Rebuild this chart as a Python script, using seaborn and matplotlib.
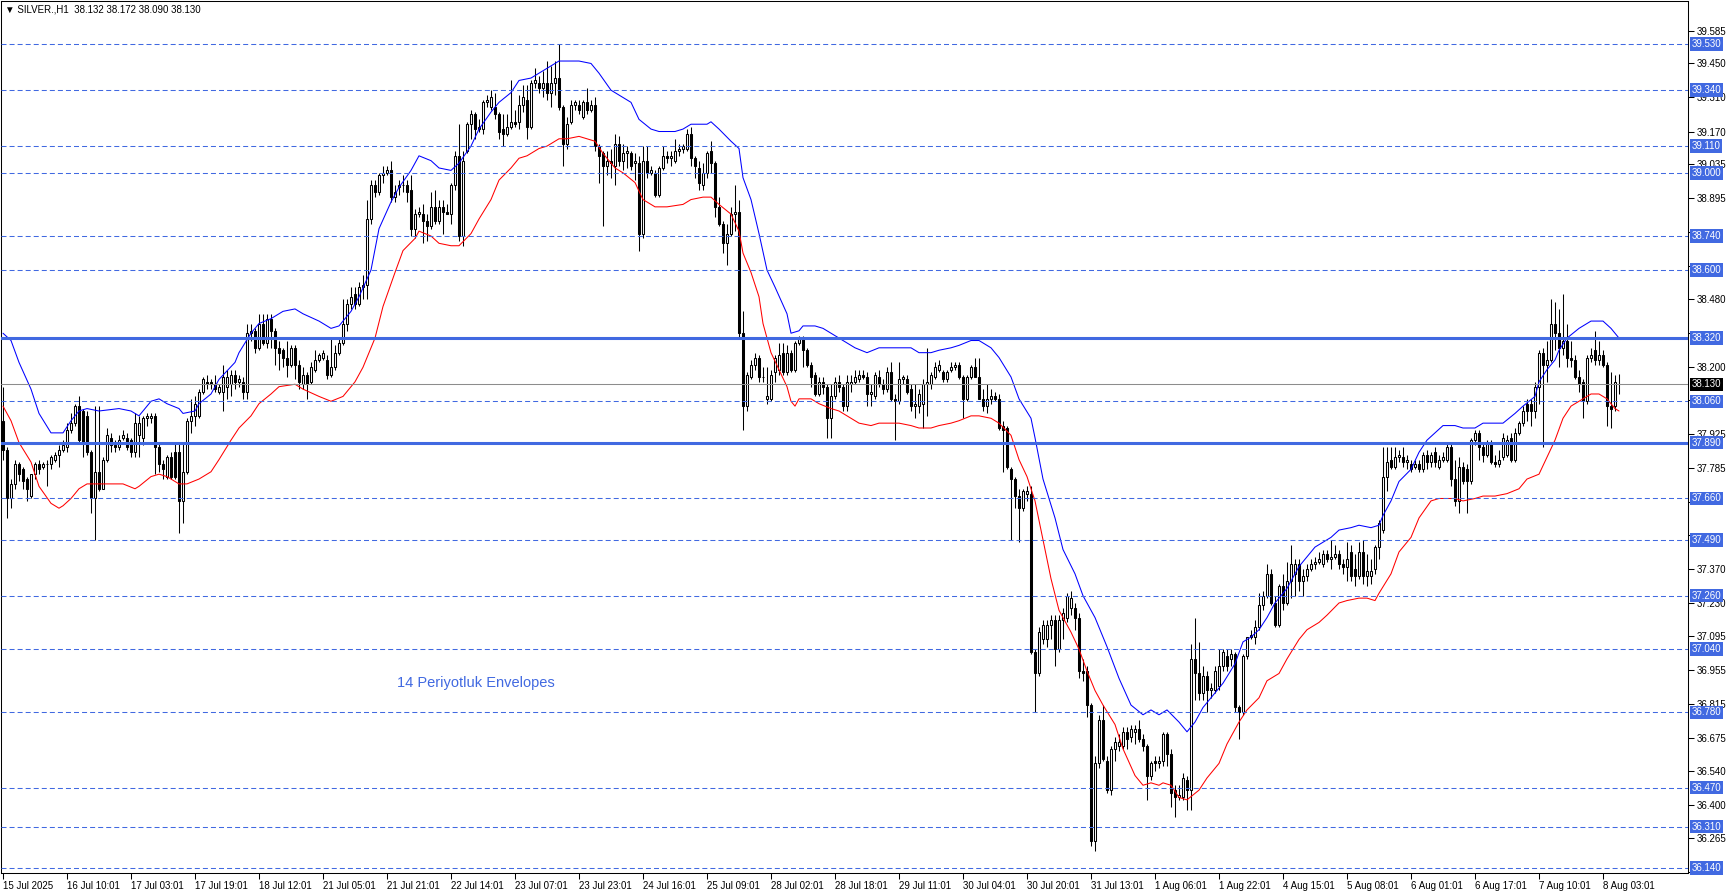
import numpy as np
import pandas as pd
import matplotlib
matplotlib.use("Agg")
import matplotlib.pyplot as plt
import matplotlib.transforms as mtransforms
import seaborn as sns

# SILVER H1 candles (one per bar, left to right)
opens = [
    37.98, 37.86, 37.66, 37.72, 37.80, 37.78, 37.74, 37.67, 37.76, 37.80,
    37.79, 37.80, 37.80, 37.82, 37.84, 37.86, 37.87, 37.94, 37.97, 38.04,
    38.02, 38.00, 37.85, 37.66, 37.77, 37.70, 37.82, 37.91, 37.88, 37.87,
    37.91, 37.91, 37.90, 37.85, 37.92, 37.91, 37.99, 37.99, 38.00, 37.87,
    37.80, 37.75, 37.83, 37.85, 37.85, 37.65, 37.77, 37.98, 38.00, 38.00,
    38.10, 38.14, 38.14, 38.13, 38.10, 38.10, 38.12, 38.13, 38.17, 38.14,
    38.14, 38.10, 38.34, 38.35, 38.28, 38.38, 38.30, 38.40, 38.35, 38.28,
    38.27, 38.24, 38.21, 38.28, 38.21, 38.13, 38.17, 38.14, 38.19, 38.23,
    38.24, 38.23, 38.17, 38.20, 38.26, 38.30, 38.38, 38.46, 38.50, 38.46,
    38.53, 38.54, 38.81, 38.95, 38.92, 38.99, 39.00, 39.01, 38.90, 38.94,
    38.95, 38.95, 38.93, 38.77, 38.83, 38.83, 38.80, 38.78, 38.86, 38.80,
    38.86, 38.84, 38.83, 38.95, 39.07, 38.74, 39.09, 39.20, 39.24, 39.18,
    39.18, 39.29, 39.27, 39.27, 39.24, 39.18, 39.16, 39.19, 39.21, 39.21,
    39.28, 39.30, 39.19, 39.37, 39.37, 39.35, 39.37, 39.33, 39.37, 39.39,
    39.27, 39.12, 39.21, 39.28, 39.28, 39.23, 39.29, 39.26, 39.28, 39.11,
    39.08, 39.03, 39.05, 39.03, 39.12, 39.05, 39.08, 39.08, 39.04, 39.04,
    38.75, 39.05, 39.00, 39.00, 38.91, 39.02, 39.07, 39.06, 39.05, 39.09,
    39.10, 39.10, 39.16, 39.06, 39.02, 38.95, 39.00, 39.09, 39.04, 38.86,
    38.79, 38.71, 38.75, 38.83, 38.84, 38.34, 38.04, 38.16, 38.21, 38.24,
    38.16, 38.07, 38.07, 38.18, 38.19, 38.26, 38.18, 38.26, 38.19, 38.30,
    38.32, 38.27, 38.21, 38.17, 38.09, 38.14, 38.12, 37.99, 38.08, 38.14,
    38.12, 38.04, 38.13, 38.14, 38.15, 38.17, 38.16, 38.09, 38.08, 38.16,
    38.13, 38.11, 38.18, 38.07, 38.06, 38.15, 38.15, 38.11, 38.04, 38.04,
    38.05, 38.13, 38.13, 38.16, 38.19, 38.18, 38.15, 38.19, 38.20, 38.21,
    38.16, 38.07, 38.16, 38.20, 38.16, 38.07, 38.04, 38.07, 38.08, 38.07,
    37.96, 37.95, 37.78, 37.74, 37.67, 37.62, 37.68, 37.68, 37.03, 36.94,
    37.08, 37.08, 37.14, 37.16, 37.04, 37.16, 37.17, 37.21, 37.21, 37.17,
    36.95, 36.95, 36.81, 36.25, 36.57, 36.75, 36.58, 36.46, 36.63, 36.64,
    36.64, 36.70, 36.68, 36.70, 36.71, 36.67, 36.64, 36.52, 36.58, 36.57,
    36.58, 36.69, 36.61, 36.46, 36.43, 36.43, 36.50, 36.46, 37.00, 36.94,
    36.86, 36.93, 36.87, 36.87, 36.89, 36.97, 37.01, 37.00, 37.02, 36.80,
    36.78, 37.01, 37.09, 37.09, 37.13, 37.22, 37.26, 37.35, 37.23, 37.14,
    37.30, 37.23, 37.32, 37.35, 37.39, 37.32, 37.34, 37.37, 37.39, 37.40,
    37.39, 37.43, 37.41, 37.42, 37.43, 37.39, 37.38, 37.44, 37.37, 37.34,
    37.44, 37.34, 37.34, 37.37, 37.46, 37.53, 37.75, 37.82, 37.79, 37.83,
    37.83, 37.81, 37.80, 37.79, 37.80, 37.78, 37.84, 37.81, 37.85, 37.79,
    37.82, 37.82, 37.87, 37.74, 37.65, 37.79, 37.78, 37.73, 37.90, 37.93,
    37.87, 37.84, 37.89, 37.81, 37.80, 37.83, 37.84, 37.91, 37.82, 37.93,
    37.97, 38.05, 38.05, 38.02, 38.12, 38.26, 38.21, 38.23, 38.38, 38.34,
    38.28, 38.31, 38.24, 38.23, 38.16, 38.14, 38.06, 38.24, 38.27, 38.23,
    38.25, 38.21, 38.04, 38.04, 38.132,
]
highs = [
    38.12, 37.87, 37.74, 37.82, 37.81, 37.79, 37.75, 37.76, 37.81, 37.82,
    37.81, 37.82, 37.84, 37.85, 37.88, 37.90, 37.97, 38.01, 38.05, 38.08,
    38.03, 38.02, 37.86, 38.04, 38.04, 37.83, 37.95, 37.93, 37.90, 37.92,
    37.94, 37.93, 37.91, 38.01, 38.00, 38.00, 38.01, 38.01, 38.01, 37.89,
    37.82, 37.84, 37.85, 37.89, 37.89, 37.89, 37.99, 38.07, 38.08, 38.11,
    38.16, 38.17, 38.15, 38.17, 38.13, 38.21, 38.19, 38.19, 38.19, 38.17,
    38.16, 38.38, 38.38, 38.36, 38.42, 38.42, 38.42, 38.42, 38.36, 38.31,
    38.28, 38.31, 38.29, 38.29, 38.23, 38.20, 38.18, 38.22, 38.27, 38.26,
    38.27, 38.25, 38.32, 38.29, 38.32, 38.48, 38.48, 38.53, 38.53, 38.55,
    38.58, 38.89, 38.97, 38.97, 39.00, 39.03, 39.03, 39.05, 38.95, 38.97,
    38.99, 38.97, 38.99, 38.85, 38.86, 38.87, 38.83, 38.92, 38.93, 38.89,
    38.89, 38.87, 38.96, 39.09, 39.20, 39.09, 39.21, 39.26, 39.25, 39.22,
    39.30, 39.32, 39.34, 39.33, 39.25, 39.24, 39.24, 39.38, 39.26, 39.32,
    39.36, 39.36, 39.38, 39.43, 39.40, 39.42, 39.46, 39.44, 39.46, 39.53,
    39.28, 39.23, 39.30, 39.30, 39.30, 39.30, 39.35, 39.30, 39.31, 39.12,
    39.09, 39.09, 39.10, 39.16, 39.15, 39.12, 39.11, 39.09, 39.08, 39.07,
    39.11, 39.11, 39.03, 39.01, 39.03, 39.11, 39.09, 39.09, 39.14, 39.12,
    39.12, 39.18, 39.19, 39.07, 39.05, 39.04, 39.09, 39.13, 39.05, 38.90,
    38.80, 38.79, 38.86, 38.95, 38.89, 38.43, 38.18, 38.23, 38.26, 38.25,
    38.20, 38.20, 38.19, 38.25, 38.30, 38.30, 38.29, 38.27, 38.31, 38.33,
    38.33, 38.28, 38.22, 38.18, 38.16, 38.16, 38.13, 38.13, 38.16, 38.17,
    38.13, 38.17, 38.17, 38.19, 38.19, 38.19, 38.18, 38.13, 38.18, 38.19,
    38.15, 38.20, 38.22, 38.09, 38.22, 38.17, 38.17, 38.13, 38.13, 38.11,
    38.15, 38.28, 38.18, 38.22, 38.23, 38.19, 38.19, 38.22, 38.22, 38.22,
    38.17, 38.17, 38.21, 38.24, 38.24, 38.11, 38.13, 38.11, 38.10, 38.09,
    37.98, 37.96, 37.79, 37.75, 37.70, 37.70, 37.71, 37.71, 37.04, 37.13,
    37.16, 37.16, 37.18, 37.18, 37.18, 37.21, 37.27, 37.28, 37.23, 37.19,
    37.00, 36.97, 36.82, 36.60, 36.77, 36.81, 36.60, 36.64, 36.68, 36.69,
    36.72, 36.72, 36.73, 36.73, 36.75, 36.69, 36.65, 36.58, 36.60, 36.60,
    36.70, 36.70, 36.63, 36.48, 36.48, 36.53, 36.52, 37.06, 37.17, 37.07,
    36.97, 36.95, 36.90, 36.97, 37.04, 37.04, 37.04, 37.04, 37.03, 36.81,
    37.02, 37.09, 37.12, 37.16, 37.27, 37.28, 37.39, 37.37, 37.26, 37.31,
    37.35, 37.40, 37.47, 37.41, 37.41, 37.37, 37.39, 37.41, 37.42, 37.44,
    37.45, 37.45, 37.49, 37.47, 37.45, 37.41, 37.48, 37.47, 37.43, 37.48,
    37.49, 37.43, 37.41, 37.47, 37.57, 37.87, 37.87, 37.87, 37.87, 37.86,
    37.87, 37.84, 37.82, 37.82, 37.82, 37.85, 37.86, 37.85, 37.87, 37.84,
    37.85, 37.89, 37.89, 37.82, 37.83, 37.81, 37.80, 37.91, 37.94, 37.94,
    37.89, 37.90, 37.90, 37.84, 37.86, 37.93, 37.92, 37.93, 37.95, 37.98,
    38.04, 38.07, 38.07, 38.14, 38.27, 38.28, 38.31, 38.48, 38.47, 38.44,
    38.50, 38.38, 38.31, 38.25, 38.19, 38.15, 38.25, 38.28, 38.35, 38.31,
    38.27, 38.22, 38.18, 38.17, 38.172,
]
lows = [
    37.82, 37.58, 37.62, 37.70, 37.73, 37.70, 37.65, 37.66, 37.74, 37.76,
    37.78, 37.71, 37.78, 37.81, 37.79, 37.85, 37.85, 37.93, 37.96, 37.89,
    37.83, 37.84, 37.60, 37.49, 37.69, 37.70, 37.81, 37.85, 37.85, 37.86,
    37.90, 37.86, 37.83, 37.83, 37.83, 37.88, 37.96, 37.97, 37.76, 37.77,
    37.74, 37.74, 37.74, 37.74, 37.52, 37.56, 37.76, 37.93, 37.96, 37.99,
    38.09, 38.11, 38.11, 38.10, 38.09, 38.02, 38.07, 38.08, 38.11, 38.12,
    38.07, 38.07, 38.31, 38.26, 38.27, 38.29, 38.28, 38.28, 38.21, 38.19,
    38.20, 38.16, 38.20, 38.15, 38.11, 38.11, 38.07, 38.13, 38.18, 38.22,
    38.23, 38.15, 38.16, 38.19, 38.25, 38.29, 38.35, 38.44, 38.44, 38.45,
    38.48, 38.48, 38.79, 38.90, 38.91, 38.96, 38.99, 38.88, 38.88, 38.91,
    38.92, 38.88, 38.74, 38.73, 38.82, 38.71, 38.72, 38.77, 38.79, 38.79,
    38.75, 38.83, 38.79, 38.93, 38.72, 38.70, 39.08, 39.14, 39.14, 39.17,
    39.16, 39.27, 39.26, 39.22, 39.14, 39.11, 39.15, 39.18, 39.19, 39.18,
    39.25, 39.14, 39.18, 39.35, 39.33, 39.31, 39.30, 39.27, 39.32, 39.26,
    39.03, 39.10, 39.20, 39.26, 39.24, 39.22, 39.24, 39.25, 39.09, 38.96,
    38.78, 38.99, 38.98, 38.95, 39.03, 39.01, 39.02, 39.01, 38.97, 38.68,
    38.73, 38.98, 38.99, 38.90, 38.90, 39.01, 39.04, 39.03, 39.04, 39.07,
    39.08, 39.09, 39.03, 38.98, 38.93, 38.93, 38.98, 39.00, 38.82, 38.78,
    38.67, 38.62, 38.74, 38.76, 38.32, 37.94, 38.02, 38.15, 38.19, 38.14,
    38.14, 38.05, 38.06, 38.14, 38.17, 38.17, 38.17, 38.18, 38.18, 38.29,
    38.20, 38.20, 38.12, 38.08, 38.08, 38.09, 37.91, 37.91, 38.07, 38.10,
    38.02, 38.02, 38.10, 38.13, 38.14, 38.15, 38.04, 38.04, 38.07, 38.12,
    38.09, 38.10, 38.06, 37.90, 38.05, 38.13, 38.09, 38.02, 37.99, 38.01,
    37.95, 38.00, 38.11, 38.15, 38.18, 38.14, 38.14, 38.18, 38.19, 38.15,
    37.99, 38.06, 38.15, 38.16, 38.07, 38.02, 38.01, 38.05, 38.06, 37.94,
    37.77, 37.78, 37.49, 37.62, 37.48, 37.61, 37.65, 37.02, 36.78, 36.93,
    37.06, 37.05, 37.08, 36.97, 37.03, 37.08, 37.15, 37.18, 37.12, 36.92,
    36.91, 36.76, 36.23, 36.21, 36.55, 36.58, 36.45, 36.44, 36.58, 36.62,
    36.63, 36.63, 36.66, 36.65, 36.66, 36.62, 36.42, 36.50, 36.54, 36.55,
    36.56, 36.56, 36.39, 36.35, 36.42, 36.42, 36.38, 36.38, 36.83, 36.83,
    36.83, 36.78, 36.84, 36.86, 36.87, 36.95, 36.95, 36.97, 36.78, 36.67,
    36.77, 37.00, 37.08, 37.06, 37.12, 37.20, 37.25, 37.22, 37.13, 37.13,
    37.20, 37.22, 37.25, 37.26, 37.28, 37.26, 37.32, 37.36, 37.37, 37.39,
    37.38, 37.40, 37.37, 37.41, 37.37, 37.35, 37.32, 37.32, 37.30, 37.33,
    37.31, 37.30, 37.31, 37.35, 37.41, 37.52, 37.69, 37.78, 37.78, 37.81,
    37.79, 37.78, 37.77, 37.78, 37.77, 37.77, 37.78, 37.79, 37.79, 37.78,
    37.81, 37.81, 37.71, 37.63, 37.60, 37.72, 37.60, 37.72, 37.88, 37.82,
    37.81, 37.83, 37.80, 37.79, 37.79, 37.82, 37.83, 37.81, 37.81, 37.92,
    37.96, 37.98, 37.96, 37.99, 38.05, 37.87, 38.14, 38.22, 38.27, 38.20,
    38.25, 38.20, 38.20, 38.15, 38.10, 37.99, 38.05, 38.22, 38.21, 38.21,
    38.20, 37.96, 37.95, 38.02, 38.090,
]
closes = [
    37.86, 37.66, 37.72, 37.80, 37.76, 37.73, 37.70, 37.76, 37.80, 37.78,
    37.80, 37.80, 37.83, 37.84, 37.86, 37.88, 37.94, 37.97, 38.04, 37.90,
    37.89, 37.85, 37.66, 37.77, 37.70, 37.82, 37.92, 37.88, 37.87, 37.90,
    37.92, 37.87, 37.85, 37.97, 37.97, 37.99, 38.00, 38.00, 37.87, 37.80,
    37.78, 37.83, 37.75, 37.75, 37.65, 37.77, 37.98, 38.00, 38.05, 38.10,
    38.15, 38.13, 38.13, 38.11, 38.12, 38.16, 38.16, 38.17, 38.14, 38.15,
    38.10, 38.34, 38.35, 38.28, 38.38, 38.30, 38.40, 38.35, 38.28, 38.26,
    38.24, 38.21, 38.28, 38.21, 38.14, 38.17, 38.13, 38.20, 38.23, 38.25,
    38.26, 38.17, 38.20, 38.26, 38.30, 38.38, 38.46, 38.49, 38.46, 38.53,
    38.54, 38.81, 38.95, 38.92, 38.99, 39.00, 39.01, 38.90, 38.92, 38.95,
    38.95, 38.92, 38.77, 38.83, 38.84, 38.80, 38.78, 38.86, 38.80, 38.86,
    38.84, 38.83, 38.95, 39.07, 38.74, 39.05, 39.20, 39.24, 39.18, 39.19,
    39.29, 39.30, 39.31, 39.24, 39.17, 39.16, 39.19, 39.21, 39.20, 39.28,
    39.31, 39.19, 39.37, 39.38, 39.35, 39.37, 39.33, 39.37, 39.39, 39.27,
    39.12, 39.20, 39.28, 39.29, 39.26, 39.29, 39.26, 39.28, 39.11, 39.07,
    39.03, 39.05, 39.04, 39.12, 39.05, 39.08, 39.09, 39.03, 39.05, 38.75,
    39.05, 39.00, 39.01, 38.91, 39.02, 39.07, 39.06, 39.07, 39.09, 39.10,
    39.11, 39.16, 39.06, 39.03, 38.96, 39.00, 39.08, 39.04, 38.86, 38.79,
    38.71, 38.75, 38.83, 38.84, 38.34, 38.04, 38.17, 38.21, 38.24, 38.16,
    38.16, 38.08, 38.17, 38.24, 38.25, 38.18, 38.26, 38.19, 38.30, 38.32,
    38.27, 38.21, 38.16, 38.09, 38.14, 38.12, 37.99, 38.08, 38.14, 38.12,
    38.04, 38.14, 38.14, 38.16, 38.17, 38.16, 38.09, 38.10, 38.17, 38.13,
    38.11, 38.18, 38.07, 38.06, 38.15, 38.16, 38.10, 38.04, 38.05, 38.09,
    38.13, 38.14, 38.17, 38.20, 38.21, 38.15, 38.18, 38.20, 38.21, 38.16,
    38.07, 38.16, 38.20, 38.16, 38.07, 38.04, 38.07, 38.08, 38.07, 37.95,
    37.94, 37.79, 37.74, 37.67, 37.62, 37.69, 37.69, 37.03, 36.94, 37.11,
    37.14, 37.14, 37.16, 37.04, 37.16, 37.19, 37.26, 37.25, 37.17, 36.95,
    36.94, 36.81, 36.25, 36.57, 36.75, 36.59, 36.46, 36.63, 36.66, 36.66,
    36.70, 36.67, 36.71, 36.71, 36.67, 36.64, 36.52, 36.57, 36.57, 36.58,
    36.69, 36.61, 36.45, 36.43, 36.44, 36.51, 36.46, 37.00, 36.94, 36.86,
    36.93, 36.87, 36.88, 36.95, 36.97, 37.03, 36.97, 37.02, 36.80, 36.78,
    37.01, 37.09, 37.10, 37.13, 37.22, 37.26, 37.35, 37.23, 37.14, 37.30,
    37.23, 37.32, 37.39, 37.39, 37.32, 37.34, 37.37, 37.39, 37.40, 37.41,
    37.43, 37.41, 37.42, 37.43, 37.39, 37.38, 37.41, 37.34, 37.34, 37.44,
    37.34, 37.36, 37.36, 37.46, 37.56, 37.75, 37.81, 37.79, 37.83, 37.84,
    37.81, 37.82, 37.78, 37.80, 37.78, 37.84, 37.81, 37.84, 37.81, 37.82,
    37.83, 37.87, 37.74, 37.65, 37.79, 37.73, 37.73, 37.90, 37.93, 37.87,
    37.84, 37.89, 37.81, 37.80, 37.82, 37.91, 37.90, 37.82, 37.93, 37.97,
    38.02, 38.02, 38.02, 38.12, 38.26, 38.21, 38.23, 38.38, 38.34, 38.28,
    38.31, 38.24, 38.23, 38.16, 38.13, 38.06, 38.24, 38.25, 38.23, 38.25,
    38.21, 38.04, 38.03, 38.14, 38.130,
]

# 14 period envelopes, read at bar positions
upper_bars = [0, 2, 4, 7, 9, 12, 14, 15, 17, 19, 21, 24, 29, 32, 34, 37, 39, 41, 44, 45,
              48, 49, 52, 54, 58, 59, 62, 64, 67, 70, 73, 75, 79, 82, 84, 87, 89, 92, 94, 97,
              99, 102, 104, 107, 109, 112, 114, 117, 119, 122, 124, 127, 129, 132, 134, 137, 139, 141, 144, 147,
              149, 152, 154, 157, 159, 162, 164, 168, 170, 172, 176, 177, 179, 182, 184, 185, 187, 189, 191, 193,
              196, 197, 199, 200, 203, 205, 208, 210, 213, 216, 219, 222, 224, 227, 229, 232, 234, 237, 239, 242,
              244, 247, 249, 252, 254, 257, 258, 260, 263, 265, 268, 270, 273, 276, 279, 282, 285, 287, 289, 291,
              294, 296, 298, 300, 303, 305, 308, 310, 312, 314, 316, 318, 321, 324, 328, 330, 332, 334, 337, 339,
              342, 344, 345, 347, 349, 352, 354, 356, 358, 360, 363, 365, 368, 370, 373, 375, 378, 380, 383, 384,
              386, 388, 389, 391, 394, 395, 397, 400, 402, 404]
upper_vals = [38.34, 38.31, 38.22, 38.11, 38.01, 37.93, 37.93, 37.93, 37.98, 38.02, 38.03, 38.02, 38.03, 38.02, 38.00, 38.06, 38.07, 38.05, 38.03, 38.01,
              38.02, 38.05, 38.09, 38.15, 38.22, 38.26, 38.34, 38.38, 38.40, 38.43, 38.44, 38.42, 38.39, 38.36, 38.37, 38.43, 38.49, 38.60, 38.77, 38.88,
              38.94, 39.01, 39.07, 39.05, 39.02, 39.01, 39.04, 39.11, 39.18, 39.25, 39.29, 39.33, 39.38, 39.39, 39.41, 39.44, 39.46, 39.46, 39.46, 39.45,
              39.41, 39.34, 39.32, 39.29, 39.22, 39.18, 39.17, 39.17, 39.18, 39.20, 39.20, 39.21, 39.18, 39.13, 39.10, 38.98, 38.89, 38.75, 38.60, 38.53,
              38.42, 38.34, 38.35, 38.37, 38.37, 38.36, 38.33, 38.31, 38.28, 38.26, 38.28, 38.28, 38.28, 38.28, 38.26, 38.26, 38.27, 38.28, 38.29, 38.31,
              38.31, 38.28, 38.24, 38.16, 38.07, 37.99, 37.91, 37.74, 37.58, 37.45, 37.35, 37.26, 37.17, 37.05, 36.92, 36.81, 36.77, 36.79, 36.77, 36.79,
              36.74, 36.70, 36.74, 36.80, 36.86, 36.90, 36.98, 37.07, 37.09, 37.12, 37.17, 37.23, 37.29, 37.38, 37.46, 37.48, 37.50, 37.53, 37.54, 37.55,
              37.54, 37.55, 37.59, 37.65, 37.73, 37.78, 37.85, 37.90, 37.93, 37.96, 37.96, 37.95, 37.95, 37.97, 37.97, 37.97, 38.01, 38.04, 38.08, 38.14,
              38.19, 38.23, 38.27, 38.32, 38.36, 38.37, 38.39, 38.39, 38.36, 38.32]
lower_bars = [0, 2, 4, 7, 9, 12, 14, 15, 17, 19, 21, 24, 26, 30, 33, 34, 37, 39, 41, 44,
              46, 49, 52, 54, 57, 59, 62, 64, 67, 69, 73, 75, 79, 82, 85, 88, 90, 93, 95, 98,
              100, 103, 104, 107, 109, 112, 114, 117, 119, 122, 124, 127, 129, 131, 134, 136, 139, 141, 144, 146,
              148, 150, 153, 155, 158, 160, 163, 166, 170, 172, 175, 177, 179, 182, 184, 185, 187, 189, 190, 192,
              194, 196, 197, 198, 199, 202, 204, 207, 209, 212, 214, 217, 219, 222, 224, 227, 229, 232, 234, 237,
              239, 242, 244, 247, 249, 252, 254, 256, 258, 260, 262, 264, 267, 269, 271, 273, 275, 278, 280, 283,
              285, 287, 289, 290, 292, 294, 296, 299, 301, 304, 306, 309, 311, 314, 316, 319, 321, 324, 326, 329,
              331, 334, 336, 339, 341, 343, 344, 347, 349, 352, 354, 357, 359, 363, 365, 368, 370, 373, 376, 379,
              381, 384, 386, 388, 390, 392, 394, 397, 399, 401, 403, 404]
lower_vals = [38.04, 37.98, 37.89, 37.81, 37.71, 37.64, 37.62, 37.63, 37.66, 37.70, 37.72, 37.72, 37.72, 37.72, 37.70, 37.71, 37.75, 37.76, 37.75, 37.72,
              37.72, 37.74, 37.77, 37.82, 37.90, 37.95, 38.00, 38.05, 38.09, 38.12, 38.13, 38.11, 38.08, 38.06, 38.08, 38.14, 38.20, 38.32, 38.45, 38.59,
              38.68, 38.73, 38.76, 38.74, 38.71, 38.70, 38.70, 38.75, 38.81, 38.89, 38.97, 39.02, 39.06, 39.07, 39.10, 39.11, 39.14, 39.14, 39.15, 39.14,
              39.13, 39.08, 39.02, 39.00, 38.96, 38.89, 38.86, 38.86, 38.87, 38.89, 38.90, 38.90, 38.87, 38.83, 38.76, 38.67, 38.59, 38.49, 38.38, 38.26,
              38.19, 38.12, 38.06, 38.04, 38.07, 38.07, 38.05, 38.03, 38.02, 37.99, 37.97, 37.96, 37.97, 37.97, 37.97, 37.96, 37.95, 37.95, 37.96, 37.97,
              37.98, 38.00, 38.00, 37.99, 37.97, 37.92, 37.82, 37.75, 37.65, 37.49, 37.33, 37.20, 37.11, 37.04, 36.95, 36.87, 36.81, 36.73, 36.63, 36.52,
              36.48, 36.49, 36.48, 36.49, 36.48, 36.43, 36.42, 36.46, 36.51, 36.57, 36.65, 36.74, 36.79, 36.84, 36.91, 36.94, 37.00, 37.08, 37.12, 37.15,
              37.18, 37.23, 37.24, 37.25, 37.25, 37.24, 37.27, 37.35, 37.44, 37.50, 37.58, 37.65, 37.66, 37.66, 37.65, 37.66, 37.67, 37.67, 37.68, 37.70,
              37.74, 37.76, 37.83, 37.90, 37.99, 38.04, 38.06, 38.09, 38.09, 38.07, 38.03, 38.02]

time_labels = ["15 Jul 2025", "16 Jul 10:01", "17 Jul 03:01", "17 Jul 19:01", "18 Jul 12:01",
               "21 Jul 05:01", "21 Jul 21:01", "22 Jul 14:01", "23 Jul 07:01", "23 Jul 23:01",
               "24 Jul 16:01", "25 Jul 09:01", "28 Jul 02:01", "28 Jul 18:01", "29 Jul 11:01",
               "30 Jul 04:01", "30 Jul 20:01", "31 Jul 13:01", "1 Aug 06:01", "1 Aug 22:01",
               "4 Aug 15:01", "5 Aug 08:01", "6 Aug 01:01", "6 Aug 17:01", "7 Aug 10:01", "8 Aug 03:01"]
label_every = 16

price_ticks = [39.585, 39.450, 39.310, 39.170, 39.035, 38.895, 38.755, 38.615, 38.480, 38.340,
               38.200, 38.065, 37.925, 37.785, 37.645, 37.510, 37.370, 37.230, 37.095, 36.955,
               36.815, 36.675, 36.540, 36.400, 36.265, 36.125]
dashed_levels = [39.53, 39.34, 39.11, 39.00, 38.74, 38.60, 38.06, 37.66, 37.49, 37.26,
                 37.04, 36.78, 36.47, 36.31, 36.14]
solid_levels = [38.32, 37.89]
bid_price = 38.130

sns.set_style("white")
plt.rcParams["font.family"] = ["Liberation Sans", "DejaVu Sans"]
plt.rcParams["lines.scale_dashes"] = False

ROYAL = "#4169E1"
W, H = 1729, 896
fig = plt.figure(figsize=(W / 100, H / 100), dpi=100)
left_px, right_px, top_px, bottom_px = 1, 1688, 1, 873
ax = fig.add_axes([left_px / W, 1 - bottom_px / H,
                   (right_px - left_px) / W, (bottom_px - top_px) / H])

o = np.array(opens)
h = np.array(highs)
l = np.array(lows)
c = np.array(closes)
bars = np.arange(len(c))
up = c >= o

# candles
ax.vlines(bars, l, h, color="black", lw=0.75, zorder=2)
ax.bar(bars[up], c[up] - o[up], bottom=o[up], width=0.55,
       color="white", edgecolor="black", linewidth=0.75, zorder=2.5)
ax.bar(bars[~up], o[~up] - c[~up], bottom=c[~up], width=0.55,
       color="black", edgecolor="black", linewidth=0.75, zorder=2.5)

# envelopes
env_up = pd.DataFrame({"bar": upper_bars, "price": upper_vals})
env_lo = pd.DataFrame({"bar": lower_bars, "price": lower_vals})
sns.lineplot(data=env_up, x="bar", y="price", color="#0000FF", lw=0.75, ax=ax, zorder=3)
sns.lineplot(data=env_lo, x="bar", y="price", color="#FF0000", lw=0.75, ax=ax, zorder=3)

# horizontal levels
for lv in dashed_levels:
    ax.axhline(lv, color=ROYAL, lw=0.75, ls=(0, (3.6, 2.2)), zorder=4)
for lv in solid_levels:
    ax.axhline(lv, color=ROYAL, lw=2.2, zorder=4)
ax.axhline(bid_price, color="#8c8c8c", lw=0.75, zorder=4)

ax.set_xlim(-0.5, 421.25)
ax.set_ylim(36.119, 39.707)
ax.set_xlabel("")
ax.set_ylabel("")

# price scale on the right; a scale value hidden behind a level label is left blank
all_levels = dashed_levels + solid_levels + [bid_price]
tick_text = []
for v in price_ticks:
    hidden = min(abs(v - lv) for lv in all_levels) < 0.021
    tick_text.append("" if hidden else f"{v:.3f}")
ax.yaxis.tick_right()
ax.set_yticks(price_ticks)
ax.set_yticklabels(tick_text)
ax.tick_params(axis="y", direction="out", length=4, width=0.75, labelsize=7,
               pad=2, colors="black", right=True, left=False)

# time scale
ax.set_xticks(np.arange(len(time_labels)) * label_every)
ax.set_xticklabels(time_labels)
ax.tick_params(axis="x", direction="out", length=4, width=0.75, labelsize=7,
               pad=2, colors="black", bottom=True)
for lab in ax.get_xticklabels():
    lab.set_horizontalalignment("left")

for sp in ax.spines.values():
    sp.set_color("black")
    sp.set_linewidth(0.75)

# price labels of the horizontal lines
trans = mtransforms.blended_transform_factory(ax.transAxes, ax.transData)
x_lab = 1.0 + 3.5 / (right_px - left_px)
for lv in dashed_levels + solid_levels:
    ax.text(x_lab, lv, f"{lv:.3f}", transform=trans, ha="left", va="center",
            color="white", fontsize=7, clip_on=False, zorder=6,
            bbox=dict(boxstyle="square,pad=0.18", fc=ROYAL, ec="none"))
ax.text(x_lab, bid_price, f"{bid_price:.3f}", transform=trans, ha="left", va="center",
        color="white", fontsize=7, clip_on=False, zorder=6,
        bbox=dict(boxstyle="square,pad=0.18", fc="black", ec="none"))

# header and note
ax.text(4 / (right_px - left_px), 1 - 9 / (bottom_px - top_px),
        "\u25BC SILVER.,H1  38.132 38.172 38.090 38.130",
        transform=ax.transAxes, ha="left", va="center", fontsize=7, color="black")
ax.text(98.5, 36.90, "14 Periyotluk Envelopes", ha="left", va="center",
        fontsize=10.5, color=ROYAL, zorder=5)

fig.savefig("out.png", dpi=100)
